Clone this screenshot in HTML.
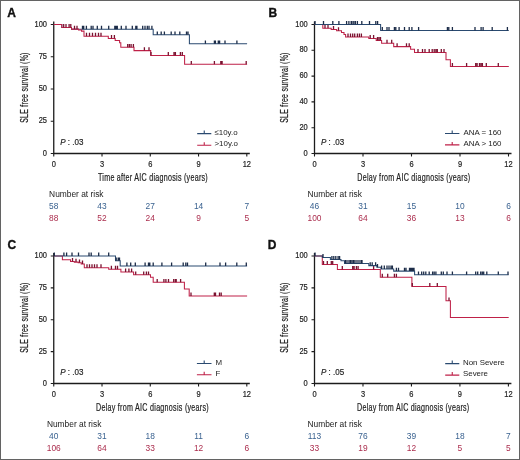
<!DOCTYPE html>
<html><head><meta charset="utf-8"><style>
html,body{margin:0;padding:0;background:#fff;}
body{width:520px;height:460px;position:relative;overflow:hidden;font-family:"Liberation Sans", sans-serif;}
svg text{font-family:"Liberation Sans", sans-serif;}
</style></head><body>
<svg width="520" height="460" viewBox="0 0 520 460" style="position:absolute;left:0;top:0;will-change:transform"><rect x="0.5" y="0.5" width="519" height="459" fill="none" stroke="#636363" stroke-width="1"/><g><text x="7.2" y="17.0" font-size="12.0" font-weight="bold" fill="#111" stroke="#111" stroke-width="0.35">A</text><g transform="translate(27.70,87.55) rotate(-90)"><text transform="translate(-35.25,0.00) scale(0.7,1)" x="0" y="0" font-size="10.0" letter-spacing="0.324" fill="#222222" stroke="#222222" stroke-width="0.22">SLE free survival (%)</text></g><path d="M53.75,21.50V153.50H249.80" fill="none" stroke="#1c1c1c" stroke-width="1.3"/><text x="46.95" y="155.60" text-anchor="end" font-size="8.9" fill="#222222" stroke="#222222" stroke-width="0.2" textLength="4.16" lengthAdjust="spacingAndGlyphs">0</text><text x="46.95" y="123.35" text-anchor="end" font-size="8.9" fill="#222222" stroke="#222222" stroke-width="0.2" textLength="8.32" lengthAdjust="spacingAndGlyphs">25</text><text x="46.95" y="91.10" text-anchor="end" font-size="8.9" fill="#222222" stroke="#222222" stroke-width="0.2" textLength="8.32" lengthAdjust="spacingAndGlyphs">50</text><text x="46.95" y="58.85" text-anchor="end" font-size="8.9" fill="#222222" stroke="#222222" stroke-width="0.2" textLength="8.32" lengthAdjust="spacingAndGlyphs">75</text><text x="46.95" y="26.60" text-anchor="end" font-size="8.9" fill="#222222" stroke="#222222" stroke-width="0.2" textLength="12.47" lengthAdjust="spacingAndGlyphs">100</text><text x="53.75" y="166.80" text-anchor="middle" font-size="8.9" fill="#222222" stroke="#222222" stroke-width="0.2" textLength="4.16" lengthAdjust="spacingAndGlyphs">0</text><text x="102.01" y="166.80" text-anchor="middle" font-size="8.9" fill="#222222" stroke="#222222" stroke-width="0.2" textLength="4.16" lengthAdjust="spacingAndGlyphs">3</text><text x="150.28" y="166.80" text-anchor="middle" font-size="8.9" fill="#222222" stroke="#222222" stroke-width="0.2" textLength="4.16" lengthAdjust="spacingAndGlyphs">6</text><text x="198.54" y="166.80" text-anchor="middle" font-size="8.9" fill="#222222" stroke="#222222" stroke-width="0.2" textLength="4.16" lengthAdjust="spacingAndGlyphs">9</text><text x="246.80" y="166.80" text-anchor="middle" font-size="8.9" fill="#222222" stroke="#222222" stroke-width="0.2" textLength="8.32" lengthAdjust="spacingAndGlyphs">12</text><path d="M50.75,153.50H53.75M50.75,121.25H53.75M50.75,89.00H53.75M50.75,56.75H53.75M50.75,24.50H53.75M53.75,153.50V156.50M102.01,153.50V156.50M150.28,153.50V156.50M198.54,153.50V156.50M246.80,153.50V156.50" fill="none" stroke="#1c1c1c" stroke-width="1.1"/><text transform="translate(98.00,180.50) scale(0.66,1)" x="0" y="0" font-size="10.8" letter-spacing="0.405" fill="#222222" stroke="#222222" stroke-width="0.22">Time after AIC diagnosis (years)</text><text x="60.15" y="145.40" font-size="9.5" fill="#222222" stroke="#222222" stroke-width="0.2" textLength="23.2" lengthAdjust="spacingAndGlyphs"><tspan font-style="italic">P</tspan> : .03</text><path d="M197.20,133.60H211.30M204.25,133.60v-3" fill="none" stroke="#2a4a70" stroke-width="1.1"/><text x="214.50" y="134.60" font-size="7.9" fill="#222222">≤10y.o</text><path d="M197.20,145.20H211.30M204.25,145.20v-3" fill="none" stroke="#bf2148" stroke-width="1.1"/><text x="214.50" y="146.20" font-size="7.9" fill="#222222">>10y.o</text><path d="M53.75,24.50H61.80V27.40H71.50V29.20H153.20V34.80H189.40V43.80H247.10" fill="none" stroke="#2a4a70" stroke-width="1.05"/><path d="M82.50,29.20v-3.4M83.70,29.20v-3.4M86.40,29.20v-3.4M91.20,29.20v-3.4M93.00,29.20v-3.4M97.30,29.20v-3.4M101.50,29.20v-3.4M108.70,29.20v-3.4M114.80,29.20v-3.4M116.10,29.20v-3.4M117.30,29.20v-3.4M121.30,29.20v-3.4M126.00,29.20v-3.4M132.30,29.20v-3.4M135.80,29.20v-3.4M136.90,29.20v-3.4M142.70,29.20v-3.4M145.00,29.20v-3.4M147.30,29.20v-3.4M149.00,29.20v-3.4M151.90,29.20v-3.4M157.30,34.80v-3.4M161.20,34.80v-3.4M164.40,34.80v-3.4M171.20,34.80v-3.4M175.00,34.80v-3.4M179.80,34.80v-3.4M186.50,34.80v-3.4M188.00,34.80v-3.4M205.40,43.80v-3.4M214.40,43.80v-3.4M215.40,43.80v-3.4M218.30,43.80v-3.4M219.60,43.80v-3.4M225.00,43.80v-3.4M236.90,43.80v-3.4" fill="none" stroke="#1c2c48" stroke-width="1.3"/><path d="M53.75,24.50H61.80V27.40H71.50V29.10H78.50V29.90H81.50V31.10H84.00V36.20H108.30V38.40H115.20V40.40H119.60V42.80H120.80V47.30H134.00V50.60H150.70V55.40H184.60V64.30H247.10" fill="none" stroke="#bf2148" stroke-width="1.05"/><path d="M63.70,27.40v-3.4M66.00,27.40v-3.4M69.10,27.40v-3.4M70.80,27.40v-3.4M74.50,29.10v-3.4M77.00,29.10v-3.4M86.50,36.20v-3.4M89.50,36.20v-3.4M92.50,36.20v-3.4M95.50,36.20v-3.4M98.50,36.20v-3.4M101.00,36.20v-3.4M111.50,38.40v-3.4M114.40,38.40v-3.4M127.70,47.30v-3.4M129.40,47.30v-3.4M131.10,47.30v-3.4M133.40,47.30v-3.4M144.40,50.60v-3.4M149.00,50.60v-3.4M151.00,55.40v-3.4M168.30,55.40v-3.4M174.00,55.40v-3.4M175.40,55.40v-3.4M180.40,55.40v-3.4M182.30,55.40v-3.4M191.30,64.30v-3.4M214.40,64.30v-3.4M220.80,64.30v-3.4M222.10,64.30v-3.4M246.20,64.30v-3.4" fill="none" stroke="#7a1230" stroke-width="1.3"/><text x="49.10" y="197.20" font-size="8.4" fill="#222222">Number at risk</text><text x="53.75" y="208.60" text-anchor="middle" font-size="8.4" fill="#3a6290">58</text><text x="102.01" y="208.60" text-anchor="middle" font-size="8.4" fill="#3a6290">43</text><text x="150.28" y="208.60" text-anchor="middle" font-size="8.4" fill="#3a6290">27</text><text x="198.54" y="208.60" text-anchor="middle" font-size="8.4" fill="#3a6290">14</text><text x="246.80" y="208.60" text-anchor="middle" font-size="8.4" fill="#3a6290">7</text><text x="53.75" y="220.70" text-anchor="middle" font-size="8.4" fill="#ab2e4e">88</text><text x="102.01" y="220.70" text-anchor="middle" font-size="8.4" fill="#ab2e4e">52</text><text x="150.28" y="220.70" text-anchor="middle" font-size="8.4" fill="#ab2e4e">24</text><text x="198.54" y="220.70" text-anchor="middle" font-size="8.4" fill="#ab2e4e">9</text><text x="246.80" y="220.70" text-anchor="middle" font-size="8.4" fill="#ab2e4e">5</text></g><g><text x="268.5" y="17.0" font-size="12.0" font-weight="bold" fill="#111" stroke="#111" stroke-width="0.35">B</text><g transform="translate(288.45,87.55) rotate(-90)"><text transform="translate(-35.25,0.00) scale(0.7,1)" x="0" y="0" font-size="10.0" letter-spacing="0.324" fill="#222222" stroke="#222222" stroke-width="0.22">SLE free survival (%)</text></g><path d="M314.50,21.50V153.50H511.50" fill="none" stroke="#1c1c1c" stroke-width="1.3"/><text x="307.70" y="155.60" text-anchor="end" font-size="8.9" fill="#222222" stroke="#222222" stroke-width="0.2" textLength="4.16" lengthAdjust="spacingAndGlyphs">0</text><text x="307.70" y="129.80" text-anchor="end" font-size="8.9" fill="#222222" stroke="#222222" stroke-width="0.2" textLength="8.32" lengthAdjust="spacingAndGlyphs">20</text><text x="307.70" y="104.00" text-anchor="end" font-size="8.9" fill="#222222" stroke="#222222" stroke-width="0.2" textLength="8.32" lengthAdjust="spacingAndGlyphs">40</text><text x="307.70" y="78.20" text-anchor="end" font-size="8.9" fill="#222222" stroke="#222222" stroke-width="0.2" textLength="8.32" lengthAdjust="spacingAndGlyphs">60</text><text x="307.70" y="52.40" text-anchor="end" font-size="8.9" fill="#222222" stroke="#222222" stroke-width="0.2" textLength="8.32" lengthAdjust="spacingAndGlyphs">80</text><text x="307.70" y="26.60" text-anchor="end" font-size="8.9" fill="#222222" stroke="#222222" stroke-width="0.2" textLength="12.47" lengthAdjust="spacingAndGlyphs">100</text><text x="314.50" y="166.80" text-anchor="middle" font-size="8.9" fill="#222222" stroke="#222222" stroke-width="0.2" textLength="4.16" lengthAdjust="spacingAndGlyphs">0</text><text x="363.00" y="166.80" text-anchor="middle" font-size="8.9" fill="#222222" stroke="#222222" stroke-width="0.2" textLength="4.16" lengthAdjust="spacingAndGlyphs">3</text><text x="411.50" y="166.80" text-anchor="middle" font-size="8.9" fill="#222222" stroke="#222222" stroke-width="0.2" textLength="4.16" lengthAdjust="spacingAndGlyphs">6</text><text x="460.00" y="166.80" text-anchor="middle" font-size="8.9" fill="#222222" stroke="#222222" stroke-width="0.2" textLength="4.16" lengthAdjust="spacingAndGlyphs">9</text><text x="508.50" y="166.80" text-anchor="middle" font-size="8.9" fill="#222222" stroke="#222222" stroke-width="0.2" textLength="8.32" lengthAdjust="spacingAndGlyphs">12</text><path d="M311.50,153.50H314.50M311.50,127.70H314.50M311.50,101.90H314.50M311.50,76.10H314.50M311.50,50.30H314.50M311.50,24.50H314.50M314.50,153.50V156.50M363.00,153.50V156.50M411.50,153.50V156.50M460.00,153.50V156.50M508.50,153.50V156.50" fill="none" stroke="#1c1c1c" stroke-width="1.1"/><text transform="translate(357.20,180.50) scale(0.66,1)" x="0" y="0" font-size="10.8" letter-spacing="0.436" fill="#222222" stroke="#222222" stroke-width="0.22">Delay from AIC diagnosis (years)</text><text x="320.90" y="145.40" font-size="9.5" fill="#222222" stroke="#222222" stroke-width="0.2" textLength="23.2" lengthAdjust="spacingAndGlyphs"><tspan font-style="italic">P</tspan> : .03</text><path d="M445.00,133.50H459.40M452.20,133.50v-3" fill="none" stroke="#2a4a70" stroke-width="1.1"/><text x="463.50" y="134.50" font-size="7.9" fill="#222222">ANA = 160</text><path d="M445.00,144.90H459.40M452.20,144.90v-3" fill="none" stroke="#bf2148" stroke-width="1.1"/><text x="463.50" y="145.90" font-size="7.9" fill="#222222">ANA > 160</text><path d="M314.50,24.50H322.80V28.30H331.20V29.50H336.60V30.70H341.50V32.50H344.00V34.50H345.60V36.90H368.80V38.50H376.20V40.50H381.60V43.20H393.70V46.60H410.60V49.30H414.50V52.50H446.00V59.70H450.40V66.40H508.80" fill="none" stroke="#bf2148" stroke-width="1.05"/><path d="M325.00,28.30v-3.4M328.00,28.30v-3.4M333.50,29.50v-3.4M338.50,30.70v-3.4M348.00,36.90v-3.4M350.50,36.90v-3.4M352.70,36.90v-3.4M354.70,36.90v-3.4M357.40,36.90v-3.4M359.40,36.90v-3.4M361.40,36.90v-3.4M370.20,38.50v-3.4M373.60,38.50v-3.4M377.50,40.50v-3.4M379.00,40.50v-3.4M380.50,40.50v-3.4M387.00,43.20v-3.4M391.70,43.20v-3.4M397.10,46.60v-3.4M406.50,46.60v-3.4M409.20,46.60v-3.4M418.00,52.50v-3.4M422.50,52.50v-3.4M425.00,52.50v-3.4M429.20,52.50v-3.4M432.20,52.50v-3.4M434.20,52.50v-3.4M435.90,52.50v-3.4M437.30,52.50v-3.4M441.30,52.50v-3.4M444.00,52.50v-3.4M452.40,66.40v-3.4M466.60,66.40v-3.4M475.70,66.40v-3.4M477.10,66.40v-3.4M479.50,66.40v-3.4M481.00,66.40v-3.4M482.40,66.40v-3.4M486.30,66.40v-3.4M498.30,66.40v-3.4" fill="none" stroke="#7a1230" stroke-width="1.3"/><path d="M314.50,24.50H380.60V30.50H508.80" fill="none" stroke="#2a4a70" stroke-width="1.05"/><path d="M315.00,24.50v-3.4M323.50,24.50v-3.4M332.80,24.50v-3.4M338.90,24.50v-3.4M346.60,24.50v-3.4M348.90,24.50v-3.4M351.20,24.50v-3.4M352.00,24.50v-3.4M353.80,24.50v-3.4M355.40,24.50v-3.4M357.40,24.50v-3.4M361.80,24.50v-3.4M369.50,24.50v-3.4M375.80,24.50v-3.4M377.60,24.50v-3.4M382.30,30.50v-3.4M387.00,30.50v-3.4M389.00,30.50v-3.4M394.40,30.50v-3.4M395.80,30.50v-3.4M399.10,30.50v-3.4M404.50,30.50v-3.4M409.20,30.50v-3.4M411.90,30.50v-3.4M418.60,30.50v-3.4M447.40,30.50v-3.4M448.80,30.50v-3.4M452.40,30.50v-3.4M475.00,30.50v-3.4M481.10,30.50v-3.4M483.10,30.50v-3.4M492.20,30.50v-3.4M507.40,30.50v-3.4" fill="none" stroke="#1c2c48" stroke-width="1.3"/><text x="307.50" y="197.20" font-size="8.4" fill="#222222">Number at risk</text><text x="314.50" y="208.60" text-anchor="middle" font-size="8.4" fill="#3a6290">46</text><text x="363.00" y="208.60" text-anchor="middle" font-size="8.4" fill="#3a6290">31</text><text x="411.50" y="208.60" text-anchor="middle" font-size="8.4" fill="#3a6290">15</text><text x="460.00" y="208.60" text-anchor="middle" font-size="8.4" fill="#3a6290">10</text><text x="508.50" y="208.60" text-anchor="middle" font-size="8.4" fill="#3a6290">6</text><text x="314.50" y="220.70" text-anchor="middle" font-size="8.4" fill="#ab2e4e">100</text><text x="363.00" y="220.70" text-anchor="middle" font-size="8.4" fill="#ab2e4e">64</text><text x="411.50" y="220.70" text-anchor="middle" font-size="8.4" fill="#ab2e4e">36</text><text x="460.00" y="220.70" text-anchor="middle" font-size="8.4" fill="#ab2e4e">13</text><text x="508.50" y="220.70" text-anchor="middle" font-size="8.4" fill="#ab2e4e">6</text></g><g><text x="7.6" y="249.2" font-size="12.0" font-weight="bold" fill="#111" stroke="#111" stroke-width="0.35">C</text><g transform="translate(27.70,317.55) rotate(-90)"><text transform="translate(-35.25,0.00) scale(0.7,1)" x="0" y="0" font-size="10.0" letter-spacing="0.324" fill="#222222" stroke="#222222" stroke-width="0.22">SLE free survival (%)</text></g><path d="M53.75,253.00V383.50H249.80" fill="none" stroke="#1c1c1c" stroke-width="1.3"/><text x="46.95" y="385.60" text-anchor="end" font-size="8.9" fill="#222222" stroke="#222222" stroke-width="0.2" textLength="4.16" lengthAdjust="spacingAndGlyphs">0</text><text x="46.95" y="353.73" text-anchor="end" font-size="8.9" fill="#222222" stroke="#222222" stroke-width="0.2" textLength="8.32" lengthAdjust="spacingAndGlyphs">25</text><text x="46.95" y="321.85" text-anchor="end" font-size="8.9" fill="#222222" stroke="#222222" stroke-width="0.2" textLength="8.32" lengthAdjust="spacingAndGlyphs">50</text><text x="46.95" y="289.98" text-anchor="end" font-size="8.9" fill="#222222" stroke="#222222" stroke-width="0.2" textLength="8.32" lengthAdjust="spacingAndGlyphs">75</text><text x="46.95" y="258.10" text-anchor="end" font-size="8.9" fill="#222222" stroke="#222222" stroke-width="0.2" textLength="12.47" lengthAdjust="spacingAndGlyphs">100</text><text x="53.75" y="396.80" text-anchor="middle" font-size="8.9" fill="#222222" stroke="#222222" stroke-width="0.2" textLength="4.16" lengthAdjust="spacingAndGlyphs">0</text><text x="102.01" y="396.80" text-anchor="middle" font-size="8.9" fill="#222222" stroke="#222222" stroke-width="0.2" textLength="4.16" lengthAdjust="spacingAndGlyphs">3</text><text x="150.28" y="396.80" text-anchor="middle" font-size="8.9" fill="#222222" stroke="#222222" stroke-width="0.2" textLength="4.16" lengthAdjust="spacingAndGlyphs">6</text><text x="198.54" y="396.80" text-anchor="middle" font-size="8.9" fill="#222222" stroke="#222222" stroke-width="0.2" textLength="4.16" lengthAdjust="spacingAndGlyphs">9</text><text x="246.80" y="396.80" text-anchor="middle" font-size="8.9" fill="#222222" stroke="#222222" stroke-width="0.2" textLength="8.32" lengthAdjust="spacingAndGlyphs">12</text><path d="M50.75,383.50H53.75M50.75,351.62H53.75M50.75,319.75H53.75M50.75,287.88H53.75M50.75,256.00H53.75M53.75,383.50V386.50M102.01,383.50V386.50M150.28,383.50V386.50M198.54,383.50V386.50M246.80,383.50V386.50" fill="none" stroke="#1c1c1c" stroke-width="1.1"/><text transform="translate(96.00,410.50) scale(0.66,1)" x="0" y="0" font-size="10.8" letter-spacing="0.422" fill="#222222" stroke="#222222" stroke-width="0.22">Delay from AIC diagnosis (years)</text><text x="60.15" y="375.40" font-size="9.5" fill="#222222" stroke="#222222" stroke-width="0.2" textLength="23.2" lengthAdjust="spacingAndGlyphs"><tspan font-style="italic">P</tspan> : .03</text><path d="M196.90,363.50H211.50M204.20,363.50v-3" fill="none" stroke="#2a4a70" stroke-width="1.1"/><text x="215.40" y="364.50" font-size="7.9" fill="#222222">M</text><path d="M196.90,374.70H211.50M204.20,374.70v-3" fill="none" stroke="#bf2148" stroke-width="1.1"/><text x="215.40" y="375.70" font-size="7.9" fill="#222222">F</text><path d="M53.75,256.00H62.40V259.80H70.50V261.50H74.30V262.10H78.20V262.80H81.20V263.90H84.30V267.70H108.70V269.20H120.90V271.90H133.60V274.80H150.50V277.30H153.20V282.30H184.40V289.00H189.20V295.90H247.10" fill="none" stroke="#bf2148" stroke-width="1.05"/><path d="M72.50,261.50v-3.4M76.00,262.10v-3.4M79.50,262.80v-3.4M82.50,263.90v-3.4M87.00,267.70v-3.4M89.50,267.70v-3.4M92.00,267.70v-3.4M94.50,267.70v-3.4M97.00,267.70v-3.4M101.00,267.70v-3.4M111.40,269.20v-3.4M115.50,269.20v-3.4M117.50,269.20v-3.4M125.60,271.90v-3.4M128.90,271.90v-3.4M131.60,271.90v-3.4M135.70,274.80v-3.4M143.70,274.80v-3.4M146.40,274.80v-3.4M148.50,274.80v-3.4M157.20,282.30v-3.4M163.90,282.30v-3.4M165.90,282.30v-3.4M168.50,282.30v-3.4M173.70,282.30v-3.4M175.40,282.30v-3.4M176.20,282.30v-3.4M180.60,282.30v-3.4M191.00,295.90v-3.4M214.30,295.90v-3.4M215.50,295.90v-3.4M219.50,295.90v-3.4M221.20,295.90v-3.4" fill="none" stroke="#7a1230" stroke-width="1.3"/><path d="M53.75,256.00H115.50V260.80H120.20V266.00H247.10" fill="none" stroke="#2a4a70" stroke-width="1.05"/><path d="M54.30,256.00v-3.4M63.90,256.00v-3.4M66.60,256.00v-3.4M72.00,256.00v-3.4M78.50,256.00v-3.4M89.00,256.00v-3.4M91.20,256.00v-3.4M98.70,256.00v-3.4M108.70,256.00v-3.4M116.20,260.80v-3.4M118.20,260.80v-3.4M119.50,260.80v-3.4M126.90,266.00v-3.4M130.70,266.00v-3.4M135.30,266.00v-3.4M145.10,266.00v-3.4M148.50,266.00v-3.4M149.80,266.00v-3.4M153.20,266.00v-3.4M161.90,266.00v-3.4M171.60,266.00v-3.4M183.20,266.00v-3.4M185.80,266.00v-3.4M187.50,266.00v-3.4M205.70,266.00v-3.4M220.00,266.00v-3.4M225.60,266.00v-3.4M236.80,266.00v-3.4M246.30,266.00v-3.4" fill="none" stroke="#1c2c48" stroke-width="1.3"/><text x="46.90" y="427.20" font-size="8.4" fill="#222222">Number at risk</text><text x="53.75" y="438.60" text-anchor="middle" font-size="8.4" fill="#3a6290">40</text><text x="102.01" y="438.60" text-anchor="middle" font-size="8.4" fill="#3a6290">31</text><text x="150.28" y="438.60" text-anchor="middle" font-size="8.4" fill="#3a6290">18</text><text x="198.54" y="438.60" text-anchor="middle" font-size="8.4" fill="#3a6290">11</text><text x="246.80" y="438.60" text-anchor="middle" font-size="8.4" fill="#3a6290">6</text><text x="53.75" y="450.70" text-anchor="middle" font-size="8.4" fill="#ab2e4e">106</text><text x="102.01" y="450.70" text-anchor="middle" font-size="8.4" fill="#ab2e4e">64</text><text x="150.28" y="450.70" text-anchor="middle" font-size="8.4" fill="#ab2e4e">33</text><text x="198.54" y="450.70" text-anchor="middle" font-size="8.4" fill="#ab2e4e">12</text><text x="246.80" y="450.70" text-anchor="middle" font-size="8.4" fill="#ab2e4e">6</text></g><g><text x="267.7" y="249.0" font-size="12.0" font-weight="bold" fill="#111" stroke="#111" stroke-width="0.35">D</text><g transform="translate(288.45,317.55) rotate(-90)"><text transform="translate(-35.25,0.00) scale(0.7,1)" x="0" y="0" font-size="10.0" letter-spacing="0.324" fill="#222222" stroke="#222222" stroke-width="0.22">SLE free survival (%)</text></g><path d="M314.50,253.00V383.50H511.40" fill="none" stroke="#1c1c1c" stroke-width="1.3"/><text x="307.70" y="385.60" text-anchor="end" font-size="8.9" fill="#222222" stroke="#222222" stroke-width="0.2" textLength="4.16" lengthAdjust="spacingAndGlyphs">0</text><text x="307.70" y="353.73" text-anchor="end" font-size="8.9" fill="#222222" stroke="#222222" stroke-width="0.2" textLength="8.32" lengthAdjust="spacingAndGlyphs">25</text><text x="307.70" y="321.85" text-anchor="end" font-size="8.9" fill="#222222" stroke="#222222" stroke-width="0.2" textLength="8.32" lengthAdjust="spacingAndGlyphs">50</text><text x="307.70" y="289.98" text-anchor="end" font-size="8.9" fill="#222222" stroke="#222222" stroke-width="0.2" textLength="8.32" lengthAdjust="spacingAndGlyphs">75</text><text x="307.70" y="258.10" text-anchor="end" font-size="8.9" fill="#222222" stroke="#222222" stroke-width="0.2" textLength="12.47" lengthAdjust="spacingAndGlyphs">100</text><text x="314.50" y="396.80" text-anchor="middle" font-size="8.9" fill="#222222" stroke="#222222" stroke-width="0.2" textLength="4.16" lengthAdjust="spacingAndGlyphs">0</text><text x="362.98" y="396.80" text-anchor="middle" font-size="8.9" fill="#222222" stroke="#222222" stroke-width="0.2" textLength="4.16" lengthAdjust="spacingAndGlyphs">3</text><text x="411.45" y="396.80" text-anchor="middle" font-size="8.9" fill="#222222" stroke="#222222" stroke-width="0.2" textLength="4.16" lengthAdjust="spacingAndGlyphs">6</text><text x="459.92" y="396.80" text-anchor="middle" font-size="8.9" fill="#222222" stroke="#222222" stroke-width="0.2" textLength="4.16" lengthAdjust="spacingAndGlyphs">9</text><text x="508.40" y="396.80" text-anchor="middle" font-size="8.9" fill="#222222" stroke="#222222" stroke-width="0.2" textLength="8.32" lengthAdjust="spacingAndGlyphs">12</text><path d="M311.50,383.50H314.50M311.50,351.62H314.50M311.50,319.75H314.50M311.50,287.88H314.50M311.50,256.00H314.50M314.50,383.50V386.50M362.98,383.50V386.50M411.45,383.50V386.50M459.92,383.50V386.50M508.40,383.50V386.50" fill="none" stroke="#1c1c1c" stroke-width="1.1"/><text transform="translate(357.00,410.50) scale(0.66,1)" x="0" y="0" font-size="10.8" letter-spacing="0.398" fill="#222222" stroke="#222222" stroke-width="0.22">Delay from AIC diagnosis (years)</text><text x="320.90" y="375.40" font-size="9.5" fill="#222222" stroke="#222222" stroke-width="0.2" textLength="23.2" lengthAdjust="spacingAndGlyphs"><tspan font-style="italic">P</tspan> : .05</text><path d="M445.20,363.60H459.30M452.25,363.60v-3" fill="none" stroke="#2a4a70" stroke-width="1.1"/><text x="463.00" y="364.60" font-size="7.9" fill="#222222">Non Severe</text><path d="M445.20,375.10H459.30M452.25,375.10v-3" fill="none" stroke="#bf2148" stroke-width="1.1"/><text x="463.00" y="376.10" font-size="7.9" fill="#222222">Severe</text><path d="M314.50,256.00H322.30V264.50H337.40V269.50H380.30V277.20H411.90V286.50H446.00V300.80H450.40V317.50H508.70" fill="none" stroke="#bf2148" stroke-width="1.05"/><path d="M323.50,264.50v-3.4M327.30,264.50v-3.4M331.30,264.50v-3.4M332.70,264.50v-3.4M342.30,269.50v-3.4M352.70,269.50v-3.4M354.10,269.50v-3.4M356.40,269.50v-3.4M358.10,269.50v-3.4M373.60,269.50v-3.4M382.30,277.20v-3.4M387.70,277.20v-3.4M394.40,277.20v-3.4M396.40,277.20v-3.4M412.30,286.50v-3.4M429.80,286.50v-3.4M437.30,286.50v-3.4M449.00,300.80v-3.4" fill="none" stroke="#7a1230" stroke-width="1.3"/><path d="M314.50,256.00H322.40V257.50H330.40V259.50H341.00V260.70H344.50V263.50H368.80V265.60H376.90V267.30H381.00V268.90H393.70V271.10H414.60V274.80H508.70" fill="none" stroke="#2a4a70" stroke-width="1.05"/><path d="M315.00,256.00v-3.4M323.00,257.50v-3.4M331.90,259.50v-3.4M333.80,259.50v-3.4M335.80,259.50v-3.4M338.10,259.50v-3.4M339.60,259.50v-3.4M345.40,263.50v-3.4M347.00,263.50v-3.4M349.00,263.50v-3.4M350.50,263.50v-3.4M352.00,263.50v-3.4M353.50,263.50v-3.4M355.00,263.50v-3.4M357.00,263.50v-3.4M359.00,263.50v-3.4M361.00,263.50v-3.4M362.00,263.50v-3.4M370.20,265.60v-3.4M372.20,265.60v-3.4M375.60,265.60v-3.4M377.50,267.30v-3.4M381.60,268.90v-3.4M384.30,268.90v-3.4M387.00,268.90v-3.4M389.00,268.90v-3.4M391.00,268.90v-3.4M392.40,268.90v-3.4M396.40,271.10v-3.4M398.50,271.10v-3.4M404.50,271.10v-3.4M406.00,271.10v-3.4M409.50,271.10v-3.4M410.70,271.10v-3.4M411.80,271.10v-3.4M413.00,271.10v-3.4M414.00,271.10v-3.4M418.50,274.80v-3.4M421.70,274.80v-3.4M423.70,274.80v-3.4M425.80,274.80v-3.4M429.20,274.80v-3.4M432.60,274.80v-3.4M434.20,274.80v-3.4M435.90,274.80v-3.4M441.30,274.80v-3.4M443.30,274.80v-3.4M447.00,274.80v-3.4M452.40,274.80v-3.4M466.60,274.80v-3.4M475.70,274.80v-3.4M477.70,274.80v-3.4M480.70,274.80v-3.4M482.30,274.80v-3.4M483.70,274.80v-3.4M486.80,274.80v-3.4M498.30,274.80v-3.4M508.00,274.80v-3.4" fill="none" stroke="#1c2c48" stroke-width="1.3"/><text x="307.50" y="427.20" font-size="8.4" fill="#222222">Number at risk</text><text x="314.50" y="438.60" text-anchor="middle" font-size="8.4" fill="#3a6290">113</text><text x="362.98" y="438.60" text-anchor="middle" font-size="8.4" fill="#3a6290">76</text><text x="411.45" y="438.60" text-anchor="middle" font-size="8.4" fill="#3a6290">39</text><text x="459.92" y="438.60" text-anchor="middle" font-size="8.4" fill="#3a6290">18</text><text x="508.40" y="438.60" text-anchor="middle" font-size="8.4" fill="#3a6290">7</text><text x="314.50" y="450.70" text-anchor="middle" font-size="8.4" fill="#ab2e4e">33</text><text x="362.98" y="450.70" text-anchor="middle" font-size="8.4" fill="#ab2e4e">19</text><text x="411.45" y="450.70" text-anchor="middle" font-size="8.4" fill="#ab2e4e">12</text><text x="459.92" y="450.70" text-anchor="middle" font-size="8.4" fill="#ab2e4e">5</text><text x="508.40" y="450.70" text-anchor="middle" font-size="8.4" fill="#ab2e4e">5</text></g></svg>
</body></html>
